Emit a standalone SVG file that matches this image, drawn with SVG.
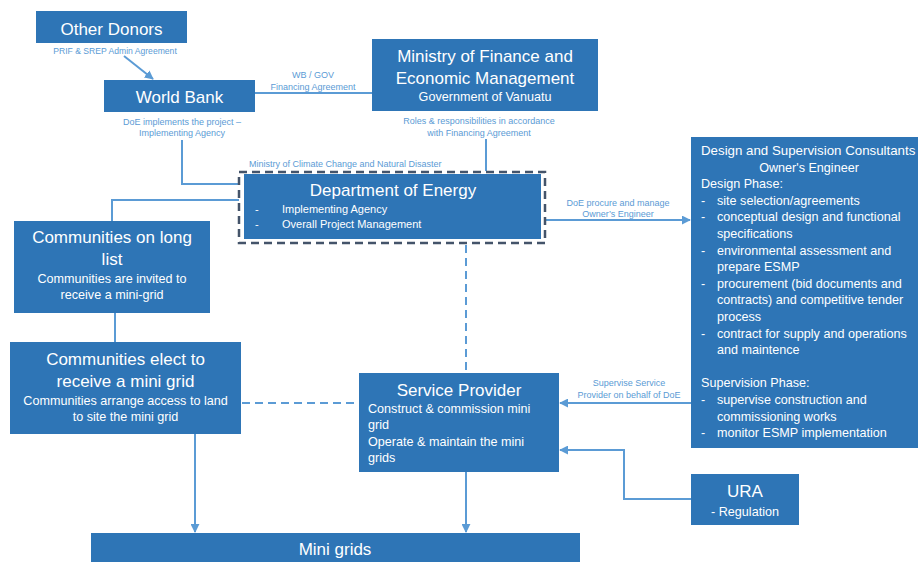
<svg xmlns="http://www.w3.org/2000/svg" width="918" height="562" viewBox="0 0 918 562">
<style>
  text { font-family: "Liberation Sans", Arial, sans-serif; }
  .box { fill: #2E75B6; }
  .t17 { fill: #ffffff; font-size: 17px; }
  .t13 { fill: #ffffff; font-size: 12.6px; }
  .t11 { fill: #ffffff; font-size: 11px; }
  .lbl { fill: #5B9BD5; font-size: 9px; }
  .c { text-anchor: middle; }
  .ln { fill: none; stroke: #5B9BD5; stroke-width: 2; }
  .dash { fill: none; stroke: #5B9BD5; stroke-width: 2; stroke-dasharray: 8 5; }
</style>
<defs>
  <marker id="arr" viewBox="0 0 10 10" refX="9" refY="5" markerWidth="4.5" markerHeight="4.5" orient="auto" markerUnits="strokeWidth">
    <path d="M0,0 L10,5 L0,10 z" fill="#5B9BD5"/>
  </marker>
</defs>

<g id="connectors">
  <line class="ln" x1="124" y1="56" x2="153" y2="79" marker-end="url(#arr)"/>
  <line class="ln" x1="255" y1="93" x2="372" y2="93"/>
  <polyline class="ln" points="182,140 182,184 239,184"/>
  <line class="ln" x1="486" y1="139" x2="486" y2="171"/>
  <polyline class="ln" points="112,221 112,200 239,200"/>
  <line class="ln" x1="115" y1="313" x2="115" y2="342"/>
  <line class="ln" x1="546" y1="220" x2="690" y2="220" marker-end="url(#arr)"/>
  <line class="dash" x1="466" y1="245" x2="466" y2="373"/>
  <line class="dash" x1="242" y1="403" x2="358" y2="403"/>
  <line class="ln" x1="691" y1="403" x2="560" y2="403" marker-end="url(#arr)"/>
  <polyline class="ln" points="691,499 624,499 624,450 560,450" marker-end="url(#arr)"/>
  <line class="ln" x1="195" y1="434" x2="195" y2="532" marker-end="url(#arr)"/>
  <line class="ln" x1="466" y1="472" x2="466" y2="532" marker-end="url(#arr)"/>
  <text class="lbl c" x="115" y="54" style="font-size:8.6px">PRIF &amp; SREP Admin Agreement</text>
  <text class="lbl c" x="313" y="78">WB / GOV</text>
  <text class="lbl c" x="313" y="90">Financing Agreement</text>
  <text class="lbl c" x="182" y="125">DoE implements the project –</text>
  <text class="lbl c" x="182" y="136">Implementing Agency</text>
  <text class="lbl c" x="479" y="124">Roles &amp; responsibilities in accordance</text>
  <text class="lbl c" x="479" y="136">with Financing Agreement</text>
  <text class="lbl" x="249" y="167">Ministry of Climate Change and Natural Disaster</text>
  <text class="lbl c" x="618" y="206">DoE procure and manage</text>
  <text class="lbl c" x="618" y="217">Owner’s Engineer</text>
  <text class="lbl c" x="629" y="386">Supervise Service</text>
  <text class="lbl c" x="629" y="398">Provider on behalf of DoE</text>
</g>

<g id="other-donors">
  <rect class="box" x="36" y="11" width="151" height="32"/>
  <text class="t17 c" x="111.5" y="34.5">Other Donors</text>
</g>

<g id="world-bank">
  <rect class="box" x="104" y="80" width="151" height="32"/>
  <text class="t17 c" x="179.5" y="103">World Bank</text>
</g>

<g id="ministry-finance">
  <rect class="box" x="372" y="39" width="226" height="72"/>
  <text class="t17 c" x="485" y="62">Ministry of Finance and</text>
  <text class="t17 c" x="485" y="84">Economic Management</text>
  <text class="t13 c" x="485" y="101">Government of Vanuatu</text>
</g>

<g id="department-of-energy">
  <rect x="239" y="172" width="306" height="71" fill="none" stroke="#44546A" stroke-width="2.5" stroke-dasharray="8 5"/>
  <rect class="box" x="244" y="174" width="297" height="65"/>
  <text class="t17 c" x="393" y="196">Department of Energy</text>
  <text class="t11" x="255" y="213">-</text>
  <text class="t11" x="282" y="213">Implementing Agency</text>
  <text class="t11" x="255" y="228">-</text>
  <text class="t11" x="282" y="228">Overall Project Management</text>
</g>

<g id="communities-long-list">
  <rect class="box" x="14" y="221" width="196" height="92"/>
  <text class="t17 c" x="112" y="243">Communities on long</text>
  <text class="t17 c" x="112" y="265">list</text>
  <text class="t13 c" x="112" y="283">Communities are invited to</text>
  <text class="t13 c" x="112" y="299">receive a mini-grid</text>
</g>

<g id="communities-elect">
  <rect class="box" x="10" y="342" width="231" height="92"/>
  <text class="t17 c" x="125.5" y="365">Communities elect to</text>
  <text class="t17 c" x="125.5" y="387">receive a mini grid</text>
  <text class="t13 c" x="125.5" y="405">Communities arrange access to land</text>
  <text class="t13 c" x="125.5" y="421">to site the mini grid</text>
</g>

<g id="service-provider">
  <rect class="box" x="359" y="373" width="200" height="99"/>
  <text class="t17 c" x="459" y="396">Service Provider</text>
  <text class="t13" x="368" y="413">Construct &amp; commission mini</text>
  <text class="t13" x="368" y="429">grid</text>
  <text class="t13" x="368" y="446">Operate &amp; maintain the mini</text>
  <text class="t13" x="368" y="462">grids</text>
</g>

<g id="design-supervision">
  <rect class="box" x="691" y="137" width="227" height="311"/>
  <text class="t13" x="701" y="155" style="font-size:13.3px">Design and Supervision Consultants</text>
  <text class="t13 c" x="809" y="171.6">Owner's Engineer</text>
  <text class="t13" x="701" y="188.2">Design Phase:</text>
  <text class="t13" x="701" y="204.8">-</text>
  <text class="t13" x="717" y="204.8">site selection/agreements</text>
  <text class="t13" x="701" y="221.4">-</text>
  <text class="t13" x="717" y="221.4">conceptual design and functional</text>
  <text class="t13" x="717" y="238">specifications</text>
  <text class="t13" x="701" y="254.6">-</text>
  <text class="t13" x="717" y="254.6">environmental assessment and</text>
  <text class="t13" x="717" y="271.2">prepare ESMP</text>
  <text class="t13" x="701" y="287.8">-</text>
  <text class="t13" x="717" y="287.8">procurement (bid documents and</text>
  <text class="t13" x="717" y="304.4">contracts) and competitive tender</text>
  <text class="t13" x="717" y="321">process</text>
  <text class="t13" x="701" y="337.6">-</text>
  <text class="t13" x="717" y="337.6">contract for supply and operations</text>
  <text class="t13" x="717" y="354.2">and maintence</text>
  <text class="t13" x="701" y="387.4">Supervision Phase:</text>
  <text class="t13" x="701" y="404">-</text>
  <text class="t13" x="717" y="404">supervise construction and</text>
  <text class="t13" x="717" y="420.6">commissioning works</text>
  <text class="t13" x="701" y="437.2">-</text>
  <text class="t13" x="717" y="437.2">monitor ESMP implementation</text>
</g>

<g id="ura">
  <rect class="box" x="691" y="474" width="108" height="51"/>
  <text class="t17 c" x="745" y="497">URA</text>
  <text class="t13 c" x="745" y="516">- Regulation</text>
</g>

<g id="mini-grids">
  <rect class="box" x="91" y="533" width="489" height="29"/>
  <text class="t17 c" x="335" y="555">Mini grids</text>
</g>
</svg>
